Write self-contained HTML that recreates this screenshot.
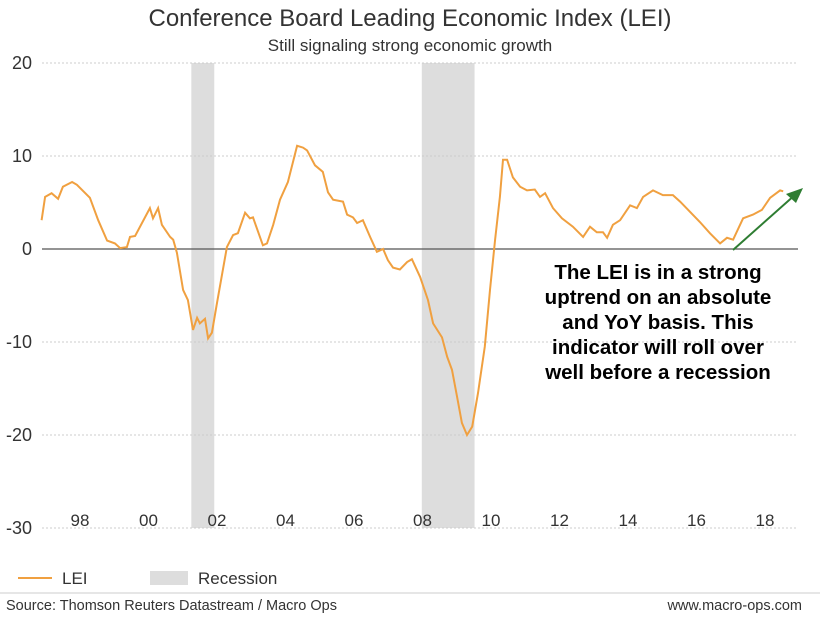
<!DOCTYPE html>
<html><head><meta charset="utf-8"><style>
body{margin:0;background:#fff;font-family:"Liberation Sans",sans-serif;}
svg text{font-family:"Liberation Sans",sans-serif;}
</style></head><body>
<svg id="c" width="820" height="614" viewBox="0 0 820 614" xmlns="http://www.w3.org/2000/svg">
<text x="410" y="26" text-anchor="middle" font-size="24" fill="#333">Conference Board Leading Economic Index (LEI)</text>
<text x="410" y="51" text-anchor="middle" font-size="17" fill="#333">Still signaling strong economic growth</text>
<g id="rec"></g><g id="grid"></g><g id="ax"></g>
<path id="line" fill="none" stroke="#f0a040" stroke-width="2"/>
<g font-size="20.5" font-weight="bold" text-anchor="middle" fill="#000">
<text x="658" y="279">The LEI is in a strong</text>
<text x="658" y="304">uptrend on an absolute</text>
<text x="658" y="329">and YoY basis. This</text>
<text x="658" y="354">indicator will roll over</text>
<text x="658" y="379">well before a recession</text>
</g>
<g>
<line x1="733" y1="250" x2="796" y2="194" stroke="#2e7d32" stroke-width="2"/>
<polygon points="803,188 786,194 796,203" fill="#2e7d32"/>
</g>
<g>
<line x1="18" y1="578" x2="52" y2="578" stroke="#f0a040" stroke-width="2"/>
<text x="62" y="584" font-size="17" fill="#333">LEI</text>
<rect x="150" y="571" width="38" height="14" fill="#ddd"/>
<text x="198" y="584" font-size="17" fill="#333">Recession</text>
</g>
<line x1="0" y1="593" x2="820" y2="593" stroke="#ccc" stroke-width="1"/>
<text x="6" y="610" font-size="14.5" fill="#333">Source: Thomson Reuters Datastream / Macro Ops</text>
<text x="802" y="610" text-anchor="end" font-size="14.5" fill="#333">www.macro-ops.com</text>
</svg>
<script>
const years=[1996.88,1996.98,1997.17,1997.36,1997.50,1997.77,1997.91,1998.29,1998.53,1998.79,1999.02,1999.17,1999.37,1999.46,1999.61,2000.04,2000.13,2000.28,2000.39,2000.63,2000.72,2000.83,2001.01,2001.15,2001.30,2001.42,2001.50,2001.65,2001.74,2001.85,2002.00,2002.29,2002.47,2002.61,2002.82,2002.96,2003.05,2003.34,2003.46,2003.64,2003.84,2004.07,2004.34,2004.51,2004.63,2004.86,2005.09,2005.24,2005.39,2005.68,2005.80,2005.97,2006.09,2006.26,2006.47,2006.67,2006.85,2006.99,2007.14,2007.34,2007.55,2007.69,2007.93,2008.16,2008.31,2008.57,2008.72,2008.86,2009.01,2009.15,2009.30,2009.45,2009.62,2009.82,2009.97,2010.12,2010.26,2010.35,2010.47,2010.64,2010.85,2011.05,2011.28,2011.43,2011.58,2011.81,2012.07,2012.39,2012.69,2012.89,2013.09,2013.27,2013.39,2013.56,2013.77,2014.06,2014.26,2014.44,2014.73,2015.02,2015.31,2015.52,2015.81,2016.10,2016.39,2016.69,2016.89,2017.07,2017.36,2017.65,2017.91,2018.15,2018.44,2018.53];
const lei=[3.1,5.6,6.0,5.4,6.7,7.2,6.9,5.5,3.1,0.9,0.6,0.1,0.2,1.3,1.4,4.4,3.3,4.4,2.6,1.3,1.0,-0.4,-4.4,-5.5,-8.7,-7.4,-8.0,-7.5,-9.6,-9.0,-5.8,0.2,1.5,1.7,3.9,3.3,3.4,0.4,0.6,2.6,5.3,7.2,11.1,10.9,10.6,9.0,8.3,6.1,5.3,5.1,3.7,3.4,2.8,3.1,1.3,-0.3,0,-1.2,-2.0,-2.2,-1.4,-1.1,-3.0,-5.5,-8.0,-9.5,-11.6,-13.0,-15.9,-18.7,-20.0,-19.1,-15.5,-10.5,-4.4,1.0,5.6,9.6,9.6,7.7,6.7,6.3,6.4,5.6,6.0,4.4,3.3,2.4,1.3,2.4,1.8,1.8,1.2,2.6,3.1,4.7,4.4,5.6,6.3,5.8,5.8,5.1,4.0,2.9,1.7,0.6,1.2,1.0,3.3,3.7,4.2,5.5,6.3,6.2];
const recessionStarts=[2001.25,2007.98];
const recessionEnds=[2001.92,2009.52];
const yTicks=[20,10,0,-10,-20,-30];
const xTicks=[1998,2000,2002,2004,2006,2008,2010,2012,2014,2016,2018];
const xTickLabels=["98","00","02","04","06","08","10","12","14","16","18"];
const X=y=>80+(y-1998)*34.25;
const Y=v=>249-v*9.3;
const NS="http://www.w3.org/2000/svg";
function mk(t,a,p){const e=document.createElementNS(NS,t);for(const k in a)e.setAttribute(k,a[k]);p.appendChild(e);return e;}
const rec=document.getElementById('rec'),grid=document.getElementById('grid'),ax=document.getElementById('ax');
recessionStarts.forEach((s,i)=>{
 const r=mk('rect',{x:X(s),y:Y(20),width:X(recessionEnds[i])-X(s),height:Y(-30)-Y(20),fill:'#ddd'},rec);
 
 
});
yTicks.forEach(v=>{
 const l=mk('line',{x1:42,x2:798,y1:Y(v),y2:Y(v),stroke:v===0?'#555':'#ccc','stroke-width':v===0?1.2:1,'stroke-dasharray':v===0?'':'2,2'},grid);
 
 
 const t=mk('text',{x:32,y:Y(v)+6,'text-anchor':'end','font-size':18,fill:'#333'},ax);
 t.textContent=v;
 
 
});
xTicks.forEach((yr,i)=>{
 const t=mk('text',{x:X(yr),y:526,'text-anchor':'middle','font-size':17,fill:'#333'},ax);
 t.textContent=xTickLabels[i];
 
 
});
document.getElementById('line').setAttribute('d',years.map((yr,i)=>(i?'L':'M')+X(yr).toFixed(1)+','+Y(lei[i]).toFixed(1)).join(''));
</script>
</body></html>
